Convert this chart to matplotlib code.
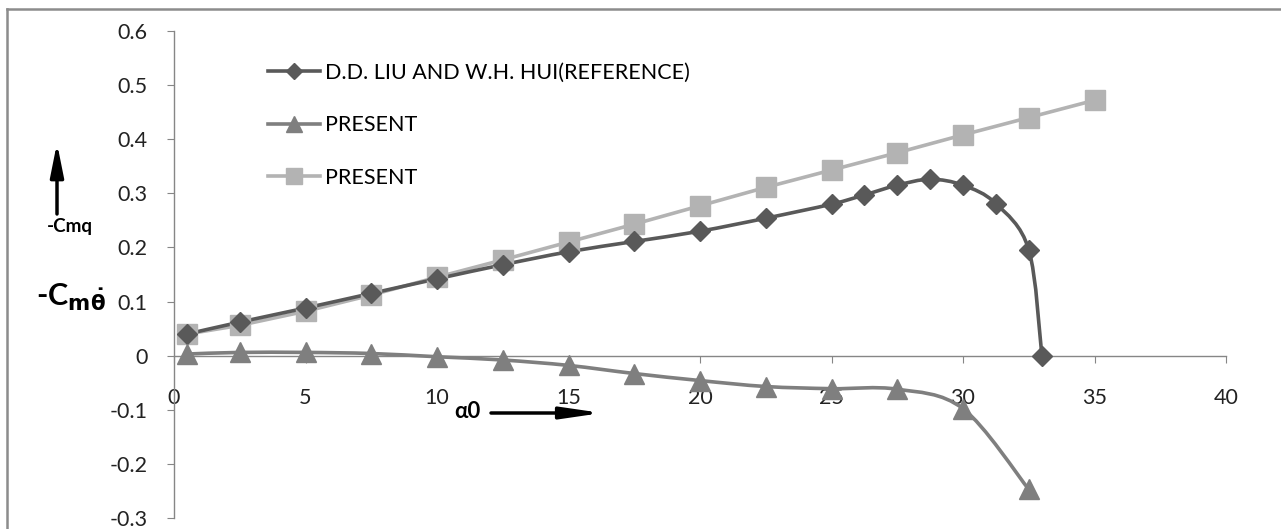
import matplotlib
matplotlib.use("Agg")
import matplotlib.pyplot as plt
import numpy as np
from matplotlib.lines import Line2D
from matplotlib.path import Path
from matplotlib.patches import PathPatch

# data
alpha_ref = [0.5, 2.5, 5, 7.5, 10, 12.5, 15, 17.5, 20, 22.5, 25, 26.25, 27.5, 28.75, 30, 31.25, 32.5, 33]
cm_ref = [0.040, 0.062, 0.088, 0.115, 0.142, 0.168, 0.192, 0.211, 0.230, 0.254, 0.280, 0.297, 0.315, 0.326, 0.315, 0.281, 0.196, 0.0]

alpha_tri = [0.5, 2.5, 5, 7.5, 10, 12.5, 15, 17.5, 20, 22.5, 25, 27.5, 30, 32.5]
cm_tri = [0.003, 0.006, 0.006, 0.004, -0.002, -0.008, -0.018, -0.033, -0.046, -0.057, -0.061, -0.062, -0.098, -0.247]

alpha_sq = [0.5, 2.5, 5, 7.5, 10, 12.5, 15, 17.5, 20, 22.5, 25, 27.5, 30, 32.5, 35]
cm_sq = [0.040, 0.056, 0.082, 0.112, 0.145, 0.177, 0.210, 0.243, 0.277, 0.311, 0.343, 0.375, 0.408, 0.440, 0.472]

x_ticks = [0, 5, 10, 15, 20, 25, 30, 35, 40]
y_ticks = [-0.3, -0.2, -0.1, 0, 0.1, 0.2, 0.3, 0.4, 0.5, 0.6]
y_labels = ["-0.3", "-0.2", "-0.1", "0", "0.1", "0.2", "0.3", "0.4", "0.5", "0.6"]
legend_labels = ["D.D. LIU AND W.H. HUI(REFERENCE)", "PRESENT", "PRESENT"]

C_REF = "#595959"
C_TRI = "#7f7f7f"
C_SQ = "#b3b3b3"
C_AXIS = "#868686"

W, H = 1281, 529
FONT = "Lato"


def px(x, y):
    """pixel coords from top-left -> figure fraction"""
    return x / W, 1 - y / H


def smooth_path(xs, ys):
    # Excel-style smoothed line: cubic bezier segments through the points
    p = np.column_stack([xs, ys])
    verts = [p[0]]
    codes = [Path.MOVETO]
    n = len(p)
    for i in range(n - 1):
        p0 = p[i - 1] if i > 0 else p[i]
        p3 = p[i + 2] if i + 2 < n else p[i + 1]
        c1 = p[i] + (p[i + 1] - p0) / 6
        c2 = p[i + 1] - (p3 - p[i]) / 6
        verts += [c1, c2, p[i + 1]]
        codes += [Path.CURVE4] * 3
    return Path(verts, codes)


fig = plt.figure(figsize=(W / 100, H / 100), dpi=100)
ax = fig.add_axes([174 / W, 1 - 518 / H, (1226 - 174) / W, (518 - 31) / H])
ax.set_xlim(0, 40)
ax.set_ylim(-0.3, 0.6)

for s in ("top", "right"):
    ax.spines[s].set_visible(False)
ax.spines["bottom"].set_position(("data", 0))
for s in ("left", "bottom"):
    ax.spines[s].set_color(C_AXIS)
    ax.spines[s].set_linewidth(1.0)

ax.set_xticks(x_ticks)
ax.set_yticks(y_ticks)
ax.set_yticklabels(y_labels)
ax.tick_params(axis="x", direction="out", length=5, color=C_AXIS, pad=18,
               labelsize=15.5, labelcolor="#222222")
ax.tick_params(axis="y", direction="out", length=5, color=C_AXIS, pad=14,
               labelsize=15.5, labelcolor="#222222")
for lab in ax.get_xticklabels() + ax.get_yticklabels():
    lab.set_fontfamily(FONT)

lw = 2.6
# lines
ax.add_patch(PathPatch(smooth_path(alpha_ref, cm_ref), fill=False, edgecolor=C_REF, lw=lw, zorder=3))
ax.add_patch(PathPatch(smooth_path(alpha_tri, cm_tri), fill=False, edgecolor=C_TRI, lw=lw, zorder=3))
ax.plot(alpha_sq, cm_sq, color=C_SQ, lw=lw, zorder=2)
# markers
ax.plot(alpha_sq, cm_sq, ls="none", marker="s", ms=14, color=C_SQ, zorder=4)
ax.plot(alpha_ref, cm_ref, ls="none", marker="D", ms=10.5, color=C_REF, zorder=5)
ax.plot(alpha_tri, cm_tri, ls="none", marker="^", ms=14, color=C_TRI, zorder=5)

handles = [
    Line2D([], [], color=C_REF, lw=lw, marker="D", ms=8),
    Line2D([], [], color=C_TRI, lw=lw, marker="^", ms=11),
    Line2D([], [], color=C_SQ, lw=lw, marker="s", ms=11),
]
fig.legend(handles, legend_labels, loc="upper left", bbox_to_anchor=px(268, 63),
           frameon=False, handlelength=2.4, handletextpad=0.25, labelspacing=1.5,
           borderpad=0, borderaxespad=0, prop={"family": FONT, "size": 15.5})

# axis annotations
fig.text(*px(70, 226), "-Cmq", ha="center", va="center", fontsize=13.5,
         fontweight="bold", family=FONT)
fig.text(*px(71, 297), r"-C$_{\mathbf{m}\mathbf{\dot{\theta}}}$", ha="center", va="center",
         fontsize=22, fontweight="bold", family=FONT)
fig.text(*px(467, 411), "α0", ha="center", va="center", fontsize=16,
         fontweight="bold", family=FONT)

ax.annotate("", xy=px(57, 143), xytext=px(57, 214), xycoords="figure fraction",
            textcoords="figure fraction",
            arrowprops=dict(arrowstyle="-|>,head_length=2.0,head_width=0.4",
                            mutation_scale=10, color="black", lw=2.5,
                            shrinkA=0, shrinkB=0))
ax.annotate("", xy=px(602, 413), xytext=px(491, 413), xycoords="figure fraction",
            textcoords="figure fraction",
            arrowprops=dict(arrowstyle="-|>,head_length=2.4,head_width=0.35",
                            mutation_scale=10, color="black", lw=2.5,
                            shrinkA=0, shrinkB=0))

# outer chart frame (left and top edges only are visible)
fig.add_artist(plt.Line2D([7 / W, 7 / W], [0, 1 - 9 / H], color="#8c8c8c", lw=1.8,
                          transform=fig.transFigure))
fig.add_artist(plt.Line2D([7 / W, 1], [1 - 9 / H, 1 - 9 / H], color="#8c8c8c", lw=1.8,
                          transform=fig.transFigure))

fig.savefig("out.png", dpi=100)
